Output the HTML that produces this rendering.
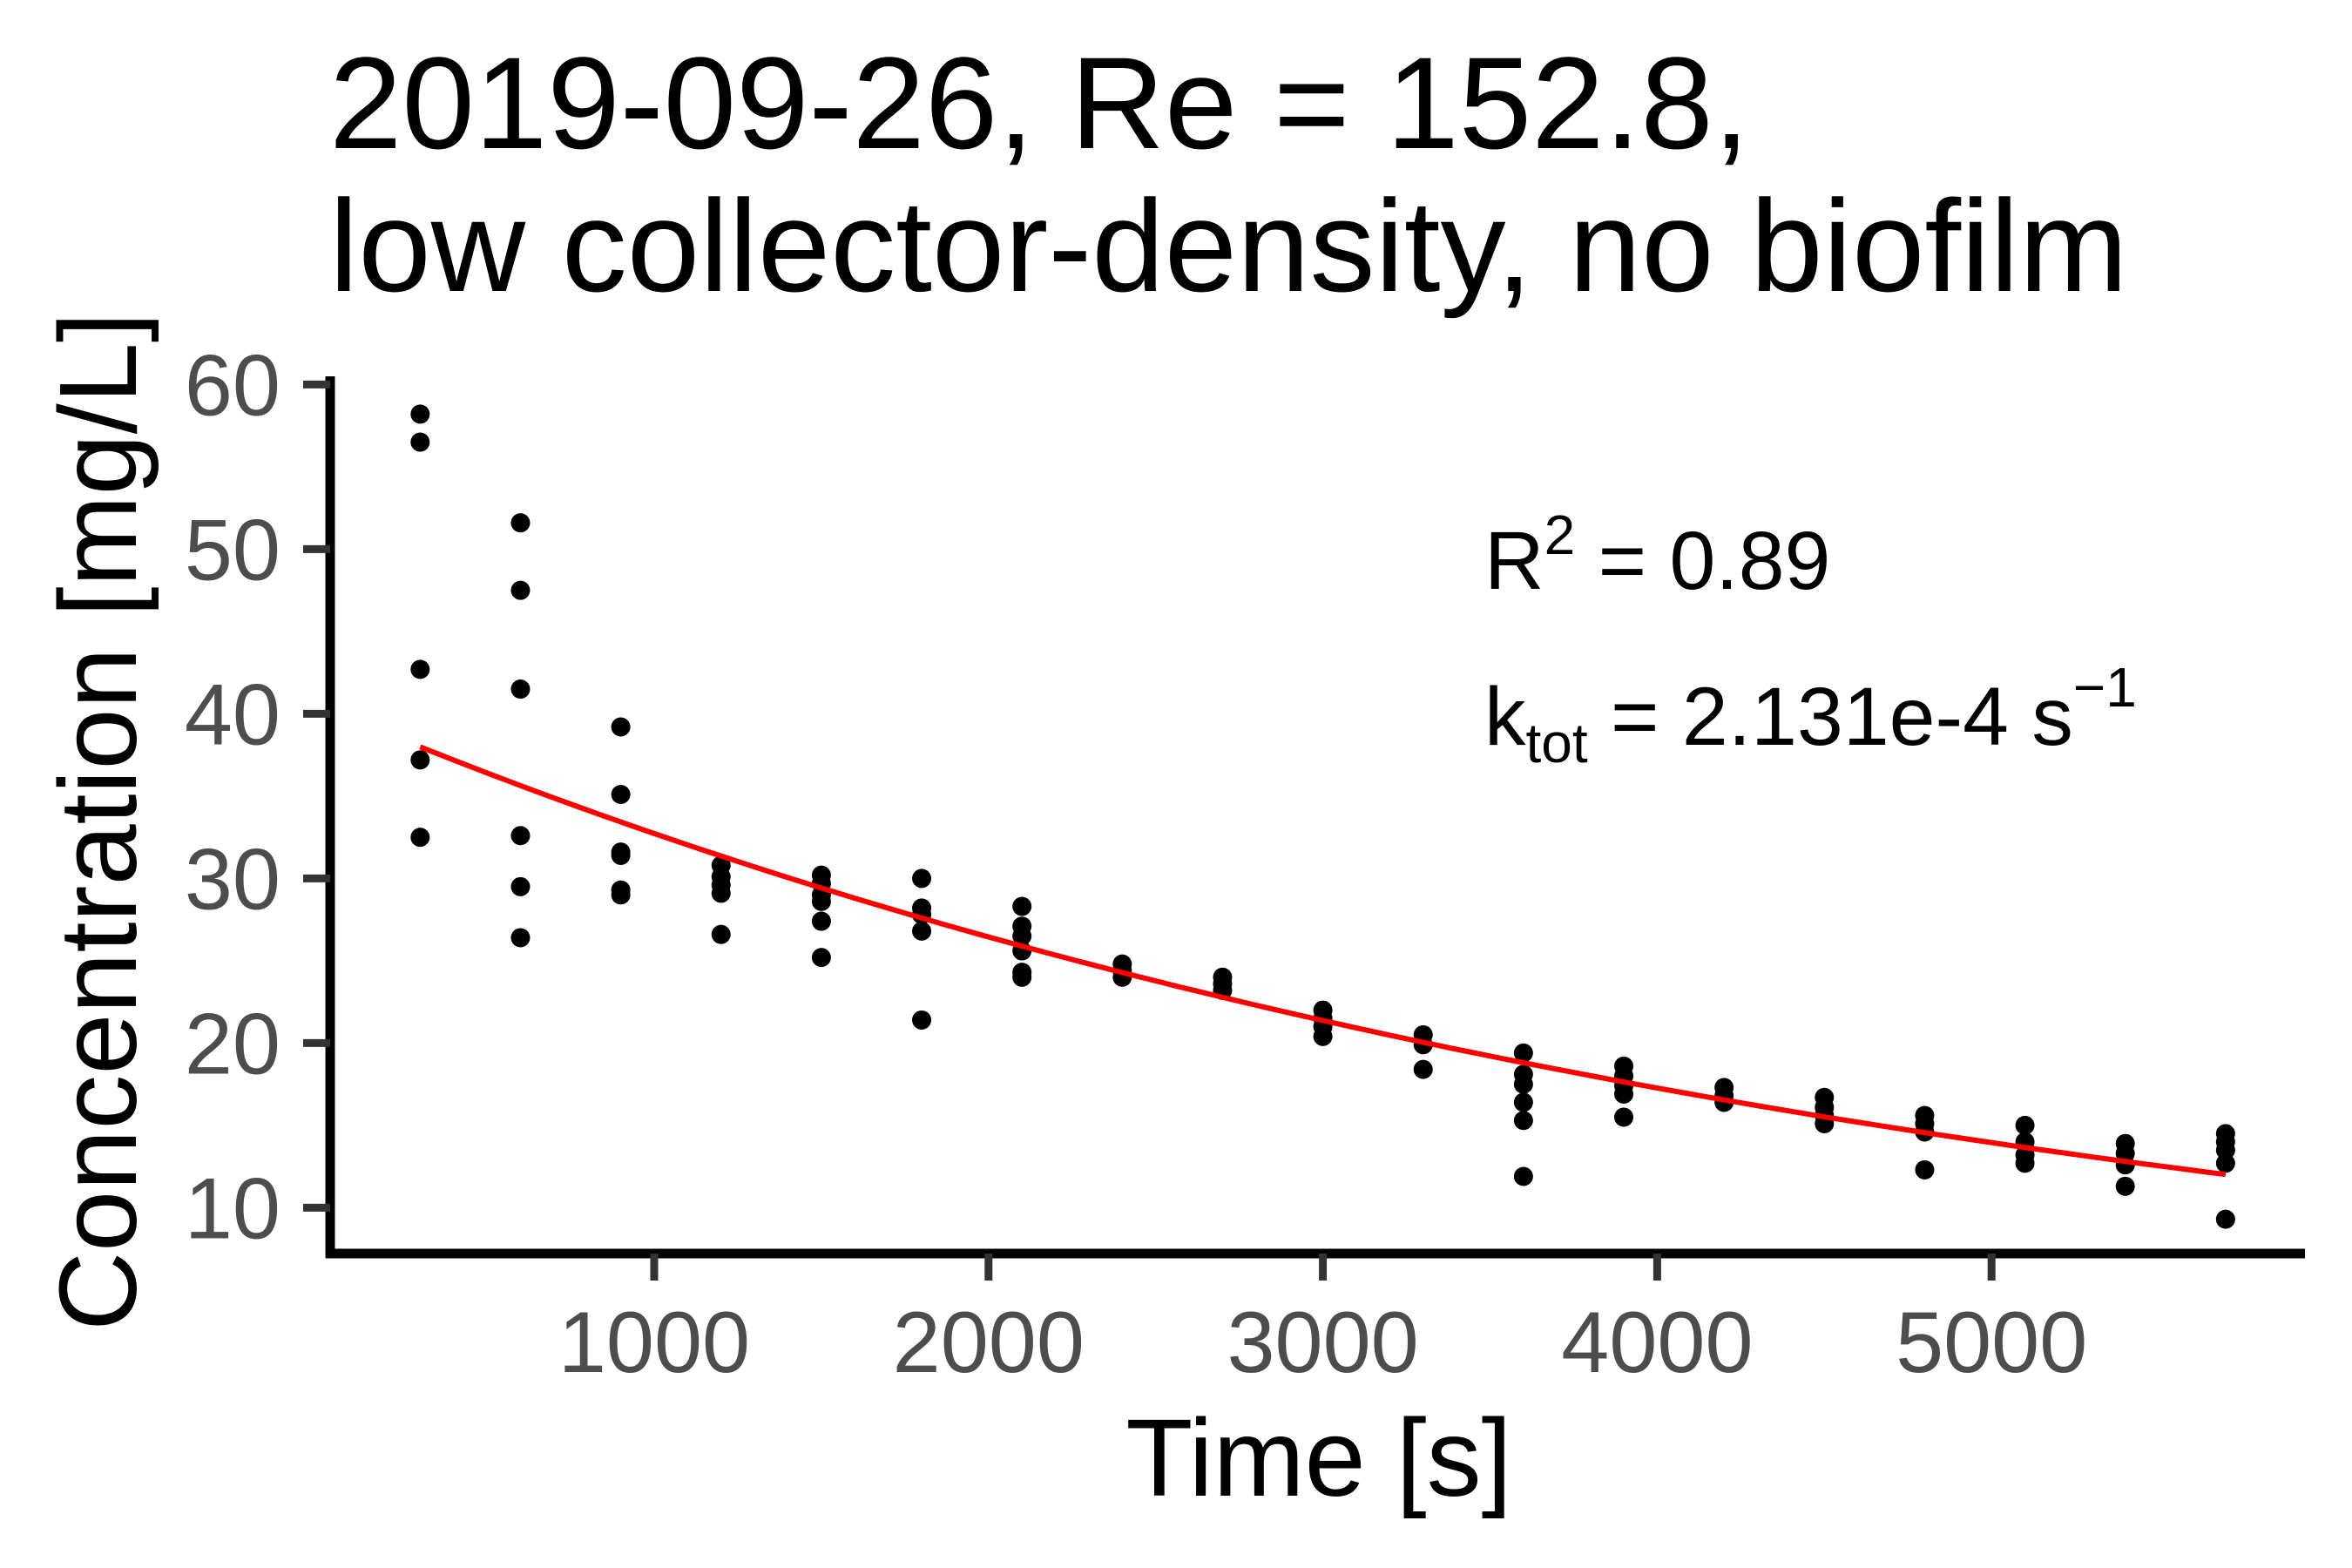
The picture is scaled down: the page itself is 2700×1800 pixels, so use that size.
<!DOCTYPE html>
<html><head><meta charset="utf-8"><style>
html,body{margin:0;padding:0;background:#fff;}
svg{display:block;font-family:"Liberation Sans",Arial,sans-serif;}
</style></head><body>
<svg id="chart" width="2700" height="1800" viewBox="0 0 2700 1800">
<g font-size="150" fill="#000">
<text x="378" y="170">2019-09-26, Re = 152.8,</text>
<text x="378" y="334">low collector-density, no biofilm</text>
</g>
<g id="points"></g>
<path id="fit" fill="none" stroke="#ff0000" stroke-width="6"/>
<line x1="379" y1="432" x2="379" y2="1444" stroke="#000" stroke-width="11"/>
<line x1="374" y1="1439" x2="2646" y2="1439" stroke="#000" stroke-width="11"/>
<g id="yticks"></g>
<g id="xticks"></g>
<text x="1514" y="1717" font-size="126" text-anchor="middle">Time [s]</text>
<text transform="translate(156,943) rotate(-90)" font-size="126" text-anchor="middle">Concentration [mg/L]</text>
<text x="1704" y="676" font-size="95">R<tspan dy="-40" font-size="64">2</tspan><tspan dy="40"> = 0.89</tspan></text>
<text x="1704" y="855" font-size="95">k<tspan dy="20" font-size="64">tot</tspan><tspan dy="-20"> = 2.131e-4 s</tspan><tspan dy="-44" font-size="64">−1</tspan></text>
</svg>
<script>
const times = [300,600,900,1200,1500,1800,2100,2400,2700,3000,3300,3600,3900,4200,4500,4800,5100,5400,5700];
const concentrations = [
 [58.2,56.5,42.7,37.2,32.5],
 [51.6,47.5,41.5,32.6,29.5,26.4],
 [39.2,35.1,31.6,31.4,29.3,29.0],
 [30.8,30.1,29.6,29.1,26.6],
 [30.2,29.7,29.0,28.6,27.4,25.2],
 [30.0,28.2,27.8,26.8,21.4],
 [28.3,27.1,26.5,25.6,24.3,24.0],
 [24.8,24.4,24.0],
 [24.0,23.6,23.2],
 [22.0,21.5,21.0,20.4],
 [20.5,19.9,18.4],
 [19.4,18.1,17.5,16.4,15.3,11.9],
 [18.6,18.0,17.4,16.9,15.5],
 [17.3,16.8,16.4],
 [16.7,16.1,15.6,15.1],
 [15.6,15.1,14.6,12.3],
 [15.0,14.0,13.2,12.7],
 [13.9,13.3,12.6,11.3],
 [14.5,14.0,13.5,12.7,9.3]
];
const fitC0 = [40.5];
const fitK = [2.131e-4];
const xTicks = [1000,2000,3000,4000,5000];
const yTicks = [10,20,30,40,50,60];

const NS = "http://www.w3.org/2000/svg";
function xs(t){ return 751 + (t-1000)*0.3838; }
function ys(v){ return 1386.4 - (v-10)*18.9; }

const pg = document.getElementById('points');
times.forEach((t,i)=>{
  concentrations[i].forEach(v=>{
    const c = document.createElementNS(NS,'circle');
    c.setAttribute('cx', xs(t)); c.setAttribute('cy', ys(v)); c.setAttribute('r', 11);
    c.setAttribute('fill','#000');
    
    
    pg.appendChild(c);
  });
});

let d = '';
const t0 = times[0], t1 = times[times.length-1];
for (let s=0; s<=100; s++){
  const t = t0 + (t1-t0)*s/100;
  const v = fitC0[0]*Math.exp(-fitK[0]*t);
  d += (s?'L':'M') + xs(t).toFixed(1) + ',' + ys(v).toFixed(1);
}
document.getElementById('fit').setAttribute('d', d);

const yg = document.getElementById('yticks');
yTicks.forEach(v=>{
  const l = document.createElementNS(NS,'line');
  l.setAttribute('x1',348); l.setAttribute('x2',379); l.setAttribute('y1',ys(v)); l.setAttribute('y2',ys(v));
  l.setAttribute('stroke','#333'); l.setAttribute('stroke-width',9);
  
  
  yg.appendChild(l);
  const tx = document.createElementNS(NS,'text');
  tx.setAttribute('x',322); tx.setAttribute('y',ys(v)+35); tx.setAttribute('text-anchor','end');
  tx.setAttribute('font-size',99); tx.setAttribute('fill','#4d4d4d');
  tx.textContent = v;
  
  
  yg.appendChild(tx);
});
const xg = document.getElementById('xticks');
xTicks.forEach(t=>{
  const l = document.createElementNS(NS,'line');
  l.setAttribute('x1',xs(t)); l.setAttribute('x2',xs(t)); l.setAttribute('y1',1439); l.setAttribute('y2',1470);
  l.setAttribute('stroke','#333'); l.setAttribute('stroke-width',9);
  
  
  xg.appendChild(l);
  const tx = document.createElementNS(NS,'text');
  tx.setAttribute('x',xs(t)); tx.setAttribute('y',1575); tx.setAttribute('text-anchor','middle');
  tx.setAttribute('font-size',99); tx.setAttribute('fill','#4d4d4d');
  tx.textContent = t;
  
  
  xg.appendChild(tx);
});
</script>
</body></html>
